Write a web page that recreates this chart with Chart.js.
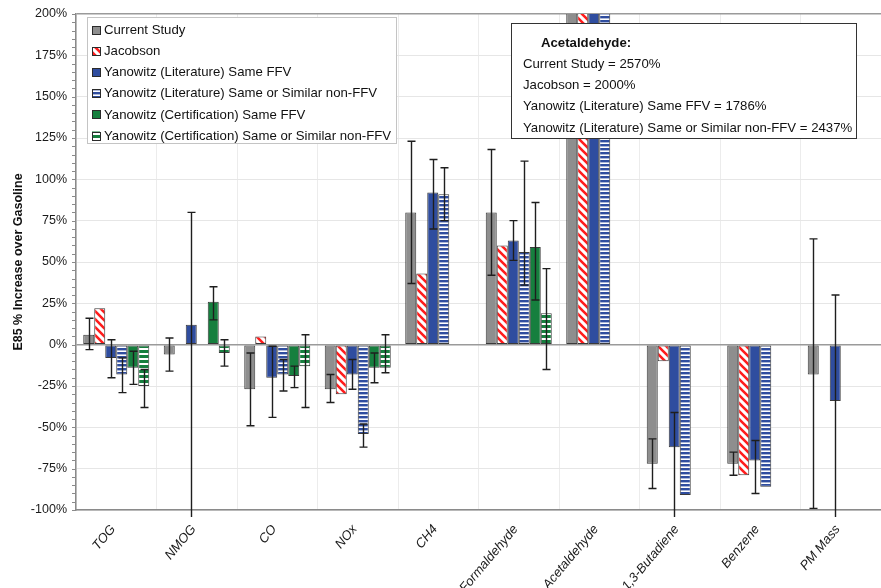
<!DOCTYPE html>
<html>
<head>
<meta charset="utf-8">
<script src="https://cdn.jsdelivr.net/npm/chart.js@4"></script>
<style>
html,body{margin:0;padding:0;background:#fff;}
#wrap{position:relative;width:881px;height:588px;}
</style>
</head>
<body>
<div id="wrap"><canvas id="c" width="881" height="588"></canvas></div>
<script>
// ---- data ----
const categories = ['TOG','NMOG','CO','NOx','CH4','Formaldehyde','Acetaldehyde','1,3-Butadiene','Benzene','PM Mass'];
const seriesNames = ['Current Study','Jacobson','Yanowitz (Literature) Same FFV','Yanowitz (Literature) Same or Similar non-FFV','Yanowitz (Certification) Same FFV','Yanowitz (Certification) Same or Similar non-FFV'];

const currentStudy   = [6, -6, -27, -27, 80, 80, 2570, -72, -72, -18];
const currentLo      = [-3, -16, -49, -35, 37, 42, null, -87, -79, -99];
const currentHi      = [16, 4, -5, -18, 123, 118, null, -57, -65, 64];

const jacobson       = [22, null, 5, -30, 43, 60, 2000, -10, -79, null];

const yanLitFFV      = [-8, 12, -20, -18, 92, 63, 1786, -62, -70, -34];
const yanLitFFVLo    = [-20, -130, -44, -27, 70, 51, null, -130, -90, -130];
const yanLitFFVHi    = [3, 80, -1, -9, 112, 75, null, -41, -58, 30];

const yanLitNon      = [-18, null, -18, -54, 91, 56, 2437, -91, -86, null];
const yanLitNonLo    = [-29, null, -28, -62, 75, 36, null, null, null, null];
const yanLitNonHi    = [-8, null, -9, -48, 107, 111, null, null, null, null];

const yanCertFFV     = [-14, 26, -19, -14, null, 59, null, null, null, null];
const yanCertFFVLo   = [-24, 15, -26, -23, null, 27, null, null, null, null];
const yanCertFFVHi   = [-4, 35, -13, -5, null, 86, null, null, null, null];

const yanCertNon     = [-25, -5, -13, -14, null, 19, null, null, null, null];
const yanCertNonLo   = [-38, -13, -38, -17, null, -15, null, null, null, null];
const yanCertNonHi   = [-15, 3, 6, 6, null, 46, null, null, null, null];

const yTickMin = -100, yTickMax = 200, yTickStep = 25;

const noteTitle = 'Acetaldehyde:';
const noteLines = ['Current Study = 2570%','Jacobson = 2000%','Yanowitz (Literature) Same FFV = 1786%','Yanowitz (Literature) Same or Similar non-FFV = 2437%'];

// ---- patterns ----
const GRAY='#8e8e8e', BLUE='#2f4d9f', GREEN='#167f3e', RED='#ff1c1c';
function diagPattern(color){
  const c=document.createElement('canvas'); c.width=8; c.height=8;
  const g=c.getContext('2d'); g.fillStyle='#fff'; g.fillRect(0,0,8,8);
  g.strokeStyle=color; g.lineWidth=2.6;
  g.beginPath();
  g.moveTo(-2,-2); g.lineTo(10,10);
  g.moveTo(-6,2); g.lineTo(2,10);
  g.moveTo(6,-2); g.lineTo(10,2);
  g.stroke();
  return g.createPattern(c,'repeat');
}
function hPattern(color,period,band){
  const c=document.createElement('canvas'); c.width=4; c.height=period;
  const g=c.getContext('2d'); g.fillStyle='#fff'; g.fillRect(0,0,4,period);
  g.fillStyle=color; g.fillRect(0,0,4,band);
  return g.createPattern(c,'repeat');
}
const fills=[GRAY, diagPattern(RED), BLUE, hPattern(BLUE,4,2.4), GREEN, hPattern(GREEN,5,3)];
const values=[currentStudy,jacobson,yanLitFFV,yanLitNon,yanCertFFV,yanCertNon];
const errLo=[currentLo,null,yanLitFFVLo,yanLitNonLo,yanCertFFVLo,yanCertNonLo];
const errHi=[currentHi,null,yanLitFFVHi,yanLitNonHi,yanCertFFVHi,yanCertNonHi];

const datasets=values.map((v,i)=>({
  label: seriesNames[i], data: v, backgroundColor: fills[i],
  borderColor:'#3a3a3a', borderWidth:1, borderSkipped:false,
  categoryPercentage:0.82, barPercentage:1.0
}));

const FONT='"Liberation Sans", Arial, sans-serif';

const errorBars={
  id:'errorBars',
  afterDatasetsDraw(chart){
    const ctx=chart.ctx, ys=chart.scales.y, a=chart.chartArea;
    ctx.save();
    ctx.beginPath(); ctx.rect(a.left,a.top,a.right-a.left,a.bottom-a.top+7); ctx.clip();
    ctx.strokeStyle='#1e1e1e'; ctx.lineWidth=1.4;
    errLo.forEach((lo,i)=>{
      if(!lo) return;
      const hi=errHi[i], meta=chart.getDatasetMeta(i);
      meta.data.forEach((el,j)=>{
        if(lo[j]==null||hi[j]==null) return;
        const x=Math.round(el.x)+0.5, y1=ys.getPixelForValue(hi[j]), y2=ys.getPixelForValue(lo[j]);
        ctx.beginPath();
        ctx.moveTo(x,y1); ctx.lineTo(x,y2);
        ctx.moveTo(x-4,y1); ctx.lineTo(x+4,y1);
        ctx.moveTo(x-4,y2); ctx.lineTo(x+4,y2);
        ctx.stroke();
      });
    });
    ctx.restore();
  },
  afterDraw(chart){
    const ctx=chart.ctx, ys=chart.scales.y, a=chart.chartArea;
    ctx.save();
    // minor ticks on y axis
    ctx.strokeStyle='#8a8a8a'; ctx.lineWidth=1;
    ctx.beginPath();
    for(let v=yTickMin; v<=yTickMax; v+=5){
      const y=Math.round(ys.getPixelForValue(v))+0.5;
      ctx.moveTo(a.left-4,y); ctx.lineTo(a.left,y);
    }
    ctx.stroke();
    // legend
    ctx.fillStyle='#fff'; ctx.strokeStyle='#c4c4c4';
    ctx.fillRect(87,17,309,126); ctx.strokeRect(87.5,17.5,309,126);
    ctx.font='13.2px '+FONT; ctx.textBaseline='middle'; ctx.textAlign='left';
    seriesNames.forEach((n,i)=>{
      const cy=30+i*21.1;
      ctx.fillStyle=fills[i]; ctx.fillRect(92,cy-4,8,8);
      ctx.strokeStyle='#2a2a2a'; ctx.lineWidth=1; ctx.strokeRect(92.5,Math.round(cy-4)+0.5,8,8);
      ctx.fillStyle='#111'; ctx.fillText(n,104,cy+0.5);
    });
    // note box
    ctx.fillStyle='#fff'; ctx.fillRect(511,23,345,115);
    ctx.strokeStyle='#333'; ctx.lineWidth=1; ctx.strokeRect(511.5,23.5,345,115);
    ctx.fillStyle='#111';
    ctx.font='bold 13.2px '+FONT; ctx.fillText(noteTitle,541,43);
    ctx.font='13.2px '+FONT;
    noteLines.forEach((t,i)=>ctx.fillText(t,523,64+i*21.3));
    ctx.restore();
  }
};

new Chart(document.getElementById('c'),{
  type:'bar',
  data:{labels:categories,datasets},
  options:{
    responsive:false, animation:false,
    layout:{padding:{top:14,right:0,left:0,bottom:0}},
    plugins:{legend:{display:false},tooltip:{enabled:false}},
    scales:{
      x:{
        afterFit(s){s.height=78; s.paddingLeft=0; s.paddingRight=0;},
        grid:{color:'#ececec',offset:true,drawTicks:false},
        border:{display:true,color:'#8a8a8a',width:1.5},
        ticks:{color:'#1a1a1a',font:{family:FONT,size:13,style:'italic'},maxRotation:50,minRotation:50,autoSkip:false,padding:12,labelOffset:-3}
      },
      y:{
        min:yTickMin,max:yTickMax,
        afterFit(s){s.width=76; s.paddingTop=0; s.paddingBottom=0;},
        grid:{
          color:(c)=> (c.tick && (c.tick.value===0||c.tick.value===yTickMax)) ? '#9a9a9a' : '#e6e6e6',
          lineWidth:(c)=> (c.tick && (c.tick.value===0||c.tick.value===yTickMax)) ? 1.5 : 1,
          drawTicks:false
        },
        border:{display:true,color:'#8a8a8a',width:1.5},
        ticks:{stepSize:yTickStep,color:'#1a1a1a',font:{family:FONT,size:12.5},padding:9,callback:(v)=>v+'%'},
        title:{display:true,text:'E85 % Increase over Gasoline',color:'#111',font:{family:FONT,size:12.5,weight:'bold'},padding:{top:11,bottom:0}}
      }
    }
  },
  plugins:[errorBars]
});
</script>
</body>
</html>
